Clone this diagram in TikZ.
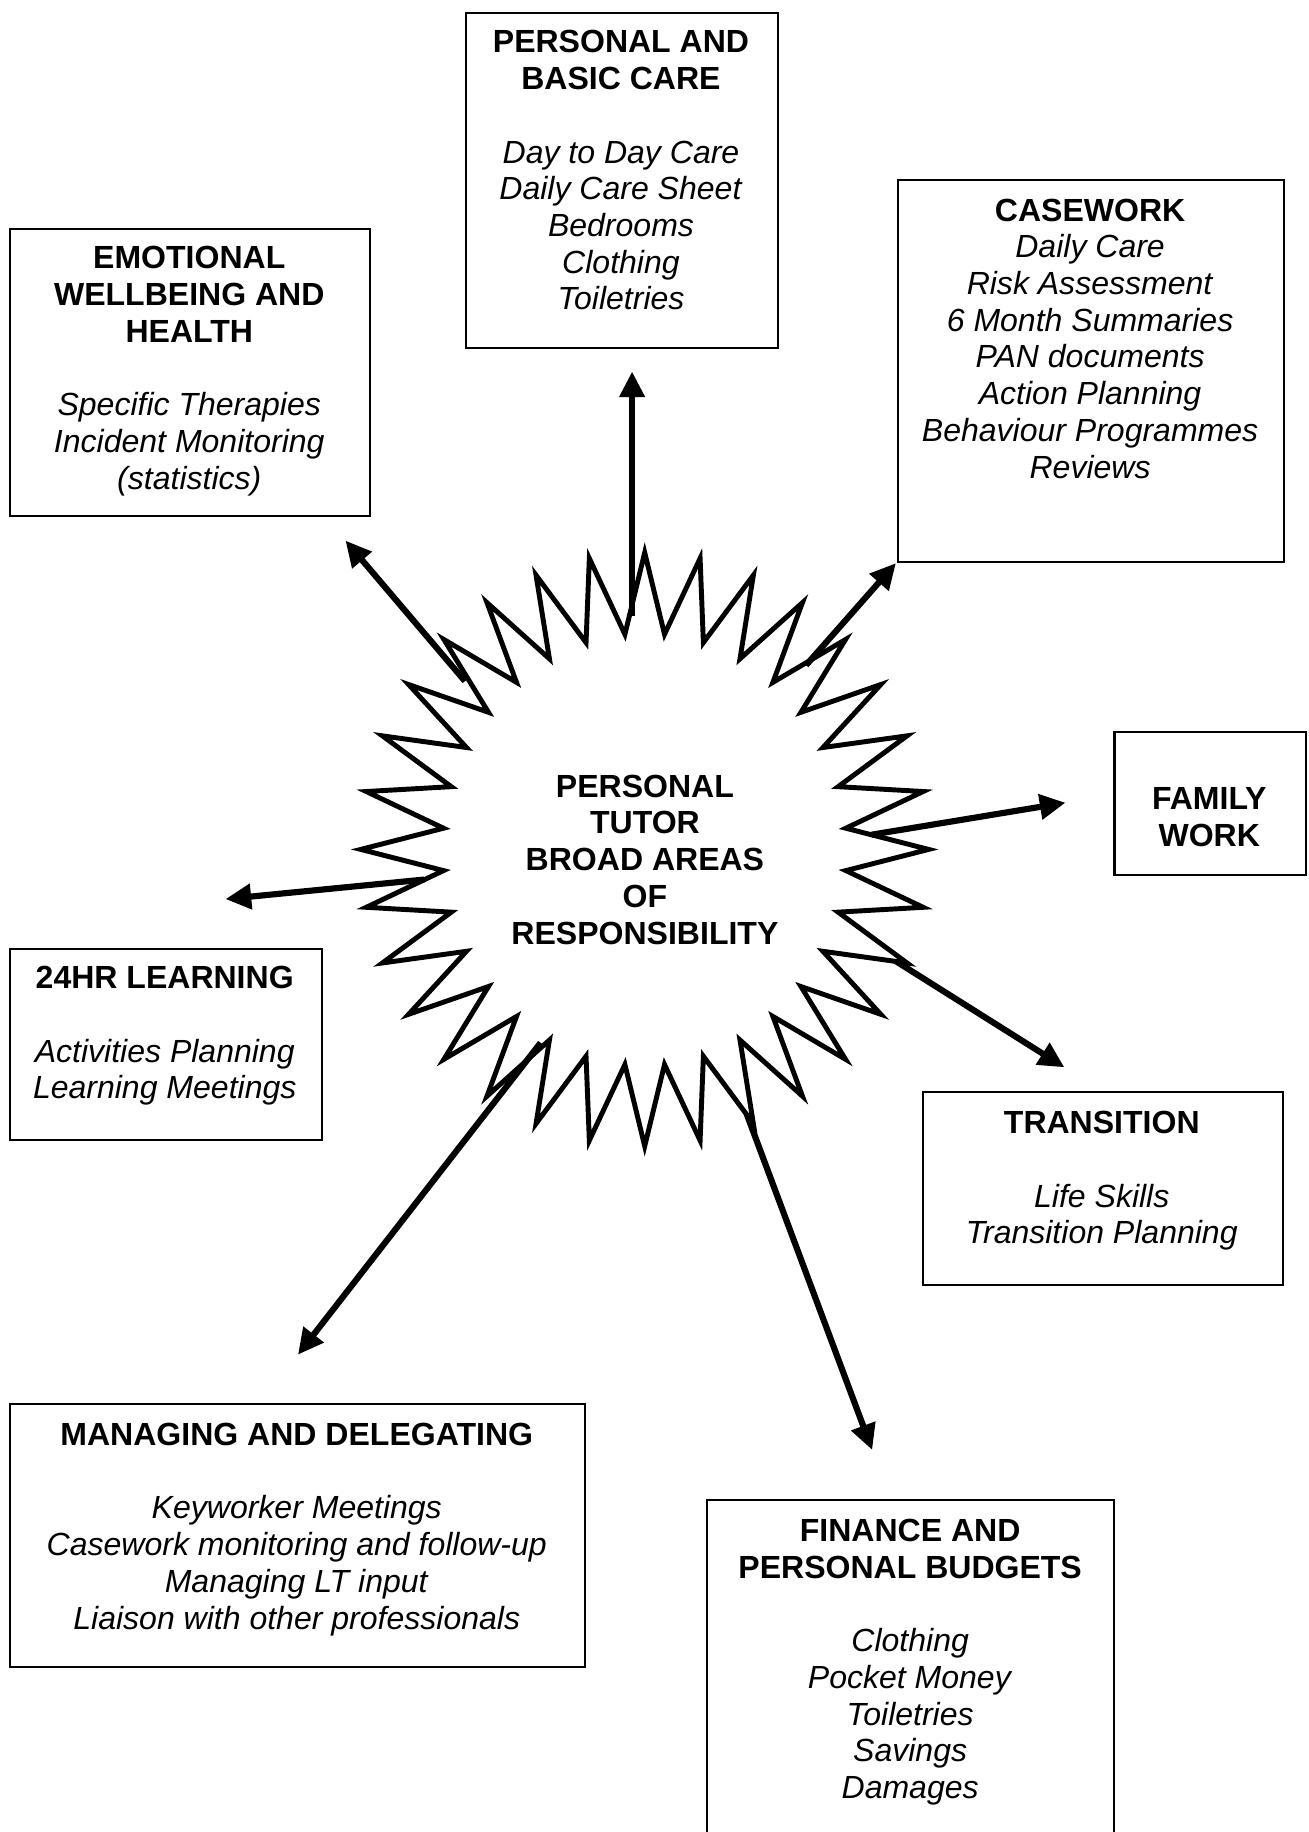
\documentclass[tikz,border=0pt]{standalone}
\usepackage{fontspec}
\setmainfont{Liberation Sans}
\usetikzlibrary{arrows.meta}
\begin{document}
\begin{tikzpicture}[x=0.02cm,y=-0.02cm,
  box/.style={draw, line width=1pt, inner sep=0pt, anchor=north west},
  txt/.style={anchor=north, align=center, inner sep=0pt, font=\fontsize{15.6pt}{17.9pt}\selectfont},
  conn/.style={line width=3pt, -{Triangle[length=0.44cm,width=0.42cm]}},
  burst/.style={line width=2.4pt, line join=miter, miter limit=20}]
\useasboundingbox (0,0) rectangle (1120,1568);
\clip (0,0) rectangle (1120,1568);

% boxes
\node[box, minimum width=5.34cm, minimum height=5.74cm] (pbc) at (398,10) {};
\node[box, minimum width=6.16cm, minimum height=4.92cm] (emo) at (8,195) {};
\node[box, minimum width=6.60cm, minimum height=6.54cm] (cw) at (768,153) {};
\node[box, minimum width=3.28cm, minimum height=2.44cm] (fam) at (953,626) {};
\node[box, minimum width=5.34cm, minimum height=3.28cm] (lrn) at (8,811) {};
\node[box, minimum width=6.16cm, minimum height=3.30cm] (trn) at (789,934) {};
\node[box, minimum width=9.84cm, minimum height=4.50cm] (mgd) at (8,1201) {};
\node[box, minimum width=6.98cm, minimum height=6.20cm] (fin) at (604,1283) {};

% texts
\node[txt] (pbct) at (531.5,22.8) {\strut\textbf{PERSONAL AND}\\\textbf{BASIC CARE}\\\strut\\\textit{Day to Day Care}\\\textit{Daily Care Sheet}\\\textit{Bedrooms}\\\textit{Clothing}\\\textit{Toiletries}};
\node[txt] (emot) at (162,207.8) {\strut\textbf{EMOTIONAL}\\\textbf{WELLBEING AND}\\\textbf{HEALTH}\\\strut\\\textit{Specific Therapies}\\\textit{Incident Monitoring}\\\textit{(statistics)}};
\node[txt] (cwt) at (933,166.8) {\strut\textbf{CASEWORK}\\\textit{Daily Care}\\\textit{Risk Assessment}\\\textit{6 Month Summaries}\\\textit{PAN documents}\\\textit{Action Planning}\\\textit{Behaviour Programmes}\\\textit{Reviews}};
\node[txt] (famt) at (1035,670.8) {\strut\textbf{FAMILY}\\\textbf{WORK}};
\node[txt] (lrnt) at (141,823.8) {\strut\textbf{24HR LEARNING}\\\strut\\\textit{Activities Planning}\\\textit{Learning Meetings}};
\node[txt] (trnt) at (943,947.8) {\strut\textbf{TRANSITION}\\\strut\\\textit{Life Skills}\\\textit{Transition Planning}};
\node[txt] (mgdt) at (254,1214.8) {\strut\textbf{MANAGING AND DELEGATING}\\\strut\\\textit{Keyworker Meetings}\\\textit{Casework monitoring and follow-up}\\\textit{Managing LT input}\\\textit{Liaison with other professionals}};
\node[txt] (fint) at (779,1296.8) {\strut\textbf{FINANCE AND}\\\textbf{PERSONAL BUDGETS}\\\strut\\\textit{Clothing}\\\textit{Pocket Money}\\\textit{Toiletries}\\\textit{Savings}\\\textit{Damages}};

% starburst
\draw[burst] (551.8,473) \foreach \k in {1,...,63}{
  -- ({551.8+ifthenelse(mod(\k,2)==0,243,173)*cos(90+\k*5.625)},
      {727-ifthenelse(mod(\k,2)==0,254,185)*sin(90+\k*5.625)})} -- cycle;
\node[txt] (ctr) at (552,659.8) {\strut\textbf{PERSONAL}\\\textbf{TUTOR}\\\textbf{BROAD AREAS}\\\textbf{OF}\\\textbf{RESPONSIBILITY}};

% connector ends
\coordinate (s1) at (541,527);   \coordinate (t1) at (541,318);
\coordinate (s2) at (398,583);   \coordinate (t2) at (295.7,462.7);
\coordinate (s3) at (689.9,569.3); \coordinate (t3) at (766.8,482);
\coordinate (s4) at (746,714.4); \coordinate (t4) at (912,687);
\coordinate (s5) at (363.1,752.8); \coordinate (t5) at (193,769.5);
\coordinate (s6) at (766.8,822.7); \coordinate (t6) at (911,913.5);
\coordinate (s7) at (462.7,892.5); \coordinate (t7) at (255,1159.5);
\coordinate (s8) at (639.2,953.8); \coordinate (t8) at (746.5,1241);

\foreach \i in {1,...,8}{ \draw[conn] (s\i) -- (t\i); }
\end{tikzpicture}
\end{document}
